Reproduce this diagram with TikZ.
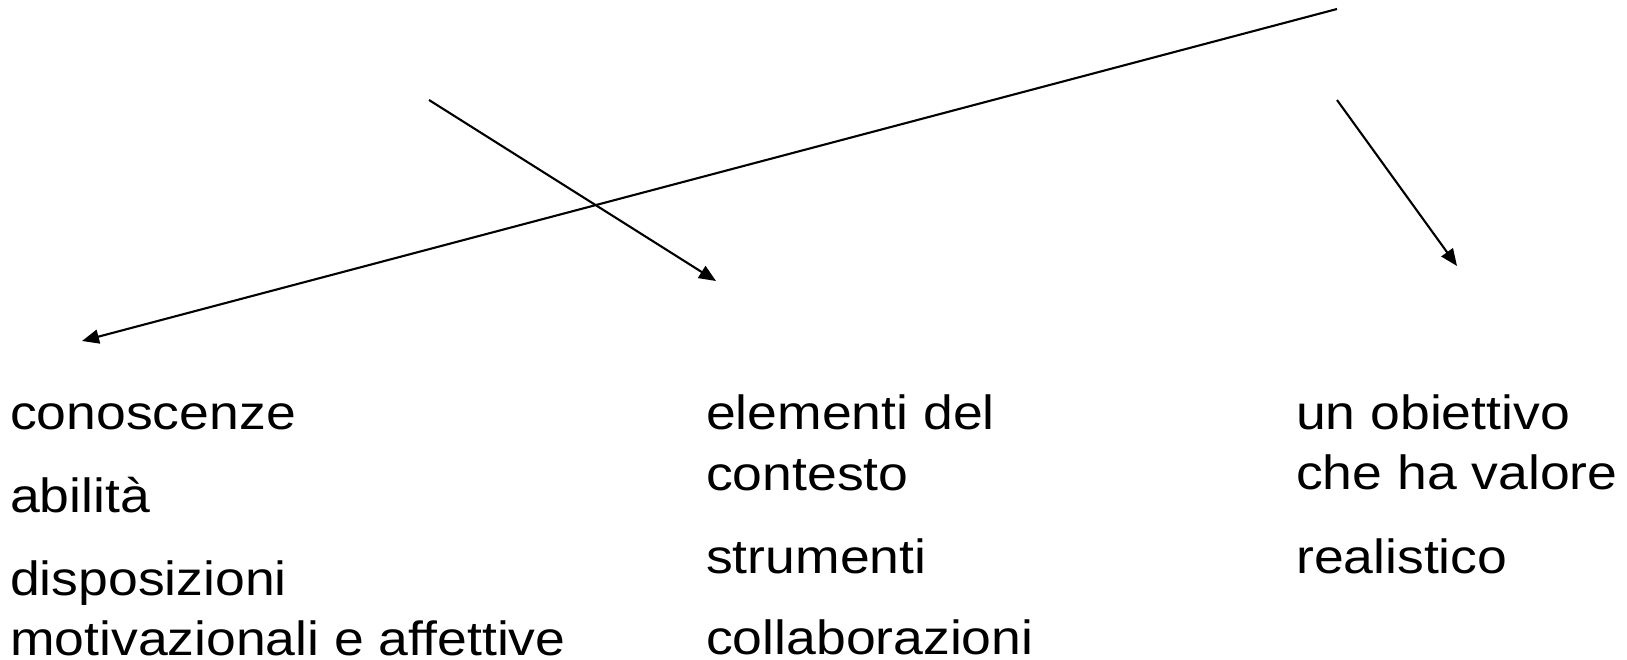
\documentclass[tikz,border=0pt]{standalone}
\usepackage{fontspec}
\usetikzlibrary{arrows.meta}
\newfontfamily\labelfont[FakeStretch=1.115]{Liberation Sans}
\tikzset{
  item/.style={anchor=base west, inner sep=0pt, align=left,
    font=\labelfont\fontsize{48}{61}\selectfont},
  link/.style={line width=2.1pt, -{Triangle[length=17pt,width=14pt]}}
}
\begin{document}
\begin{tikzpicture}[x=1pt,y=-1pt]
  \useasboundingbox (0,0) rectangle (1627,660);

  % arrow end points
  \coordinate (s1) at (1337,9);
  \coordinate (e1) at (82,341);
  \coordinate (s2) at (429,100);
  \coordinate (e2) at (716,281);
  \coordinate (s3) at (1337,100);
  \coordinate (e3) at (1457,266);

  % left column
  \node[item] (con) at (10,429) {conoscenze};
  \node[item] (abi) at (10,512) {abilità};
  \node[item] (dis) at (10,595) {disposizioni};
  \node[item] (mot) at (10,655) {motivazionali e affettive};

  % middle column
  \node[item] (ele) at (706,429) {elementi del};
  \node[item] (cnt) at (706,490) {contesto};
  \node[item] (str) at (706,573) {strumenti};
  \node[item] (col) at (706,654) {collaborazioni};

  % right column
  \node[item] (obi) at (1296,429) {un obiettivo};
  \node[item] (che) at (1296,489) {che ha valore};
  \node[item] (rea) at (1296,573) {realistico};

  % arrows
  \draw[link] (s1) -- (e1);
  \draw[link] (s2) -- (e2);
  \draw[link] (s3) -- (e3);
\end{tikzpicture}
\end{document}
